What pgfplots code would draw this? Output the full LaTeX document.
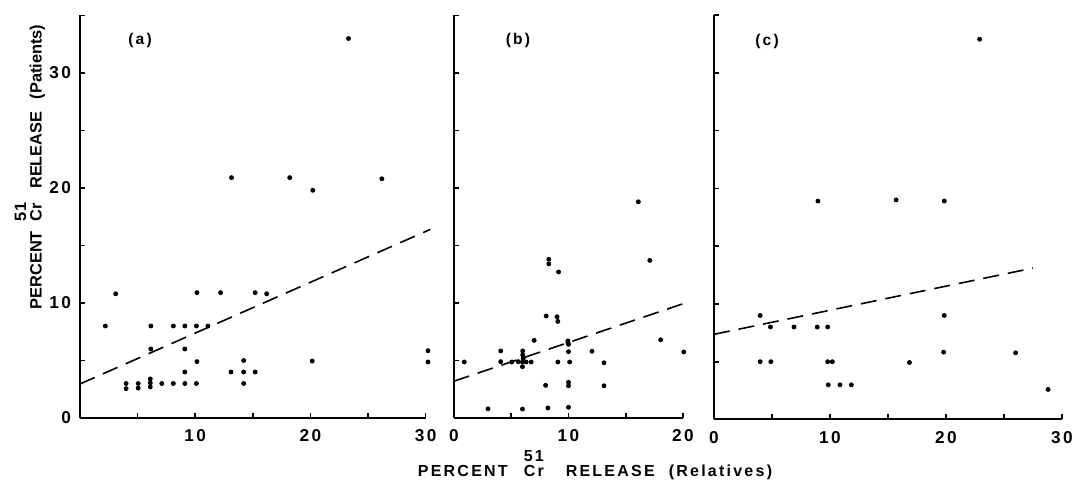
\documentclass[border=0pt]{standalone}
\usepackage{fontspec}
\setmainfont{Liberation Sans}
\newfontfamily\lab[LetterSpace=14]{Liberation Sans Bold}
\newfontfamily\labx[LetterSpace=14]{Liberation Sans Bold}
\newfontfamily\laby[LetterSpace=0]{Liberation Sans Bold}
\usepackage{pgfplots}
\pgfplotsset{compat=1.18}

\pgfplotsset{
  panel/.style={
    scale only axis,
    axis lines=left,
    axis line style={-, line width=1pt, black},
    tick align=inside,
    major tick length=2.6pt,
    every tick/.style={black, line width=0.8pt},
    ymin=0, ymax=35, xmin=0,
    ytick={0,5,10,15,20,25,30,35},
    /pgf/number format/assume math mode=true,
    ticklabel style={font=\lab\fontsize{8.6}{9}\selectfont},
    xticklabel style={anchor=center, yshift=-9pt},
    yticklabel style={anchor=east, xshift=-1.0pt},
    clip=false,
    anchor=south west,
  },
  pts/.style={only marks, mark=*, mark size=1pt, black},
  reg/.style={black, line width=0.8pt, dash pattern=on 8pt off 4.5pt, no marks},
}

\begin{document}
\begin{tikzpicture}
\path[use as bounding box] (0,0) rectangle (536pt,240.5pt);

% ---------------- (a) ----------------
\begin{axis}[panel, at={(40pt,31.5pt)}, width=172.85pt, height=201.25pt,
  xmax=30, xtick={5,10,15,20,25,30}, xticklabels={,10,,20,,30},
  yticklabels={0,,10,,20,,30,}]
\addplot[pts] coordinates {
(2.2,8.0) (3.1,10.8)
(4.0,3.0) (4.0,2.55)
(5.05,3.0) (5.05,2.6)
(6.1,3.4) (6.1,3.05) (6.1,2.7)
(6.15,8.0) (6.15,6.0)
(7.1,3.0)
(8.1,8.0) (8.1,3.0)
(9.1,8.0) (9.1,6.0) (9.1,4.0) (9.1,3.0)
(10.15,10.9) (10.1,8.0) (10.15,4.9) (10.1,3.0)
(11.1,8.0) (12.2,10.9)
(13.1,4.0) (13.15,20.9)
(14.2,5.0) (14.2,4.0) (14.2,3.0)
(15.2,10.9) (15.2,4.0)
(16.2,10.8) (18.2,20.9)
(20.15,4.95) (20.2,19.8)
(23.3,33.0) (26.2,20.8)
(30.2,5.85) (30.2,4.87)
};
\addplot[reg] coordinates {(0,2.96) (30.4,16.4)};
\end{axis}

% ---------------- (b) ----------------
\begin{axis}[panel, at={(227pt,31.5pt)}, width=114.5pt, height=201.25pt,
  xmax=20, xtick={0,5,10,15,20}, xticklabels={0,,10,,20},
  yticklabels={}]
\addplot[pts] coordinates {
(0.9,4.87) (2.97,0.8)
(4.08,5.83) (4.08,4.9)
(5.05,4.87) (5.6,4.9)
(6.0,5.83) (6.0,5.48) (6.04,5.16) (5.98,4.87) (5.98,4.46) (6.3,4.87) (6.74,4.87)
(5.98,0.78)
(7.0,6.75)
(8.28,13.8) (8.28,13.4)
(8.05,8.87) (8.0,2.84) (8.2,0.87)
(9.13,12.7)
(9.0,8.8) (9.07,8.4) (9.07,4.87)
(9.95,6.7) (9.95,6.55) (10.0,6.4) (10.0,5.77)
(10.1,4.87) (10.0,3.1) (10.0,2.8) (10.0,0.93)
(12.05,5.8)
(13.1,4.8) (13.1,2.8)
(16.1,18.8) (17.1,13.7) (18.05,6.8) (20.06,5.74)
};
\addplot[reg] coordinates {(0,3.2) (20.2,10.0)};
\end{axis}

% ---------------- (c) ----------------
\begin{axis}[panel, at={(357pt,30.75pt)}, width=174pt, height=202.25pt,
  xmax=30, xtick={0,5,10,15,20,25,30}, xticklabels={0,,10,,20,,30},
  yticklabels={}]
\addplot[pts] coordinates {
(3.98,9.0) (3.98,5.0)
(4.87,8.0) (4.9,5.0)
(6.9,8.0) (8.9,8.0) (8.96,18.9)
(9.8,8.0) (9.8,5.0) (10.2,5.0)
(9.85,3.0) (10.86,3.0) (11.84,3.0)
(15.7,19.0) (16.85,4.93)
(19.85,18.9) (19.85,9.0) (19.8,5.83)
(22.9,32.9) (26.0,5.77) (28.8,2.6)
};
\addplot[reg] coordinates {(0,7.37) (27.5,13.1)};
\end{axis}

% panel tags
\node[font=\lab\fontsize{7.8}{8}\selectfont] at (70pt,220.5pt) {(a)};
\node[font=\lab\fontsize{7.8}{8}\selectfont] at (259pt,220.5pt) {(b)};
\node[font=\lab\fontsize{7.8}{8}\selectfont] at (383.5pt,220pt) {(c)};

% axis titles
\node[font=\laby\fontsize{8.2}{9}\selectfont, rotate=90] at (15pt,157pt)
  {PERCENT\hspace{5pt}\makebox[0pt][l]{\raisebox{7.8pt}{51}}Cr\hspace{7pt}RELEASE\hspace{6pt}(Patients)};
\node[font=\labx\fontsize{8}{9}\selectfont] at (297.5pt,8pt)
  {PERCENT\hspace{8pt}\makebox[0pt][l]{\raisebox{7.5pt}{51}}Cr\hspace{11pt}RELEASE\hspace{7pt}(Relatives)};
\end{tikzpicture}
\end{document}
